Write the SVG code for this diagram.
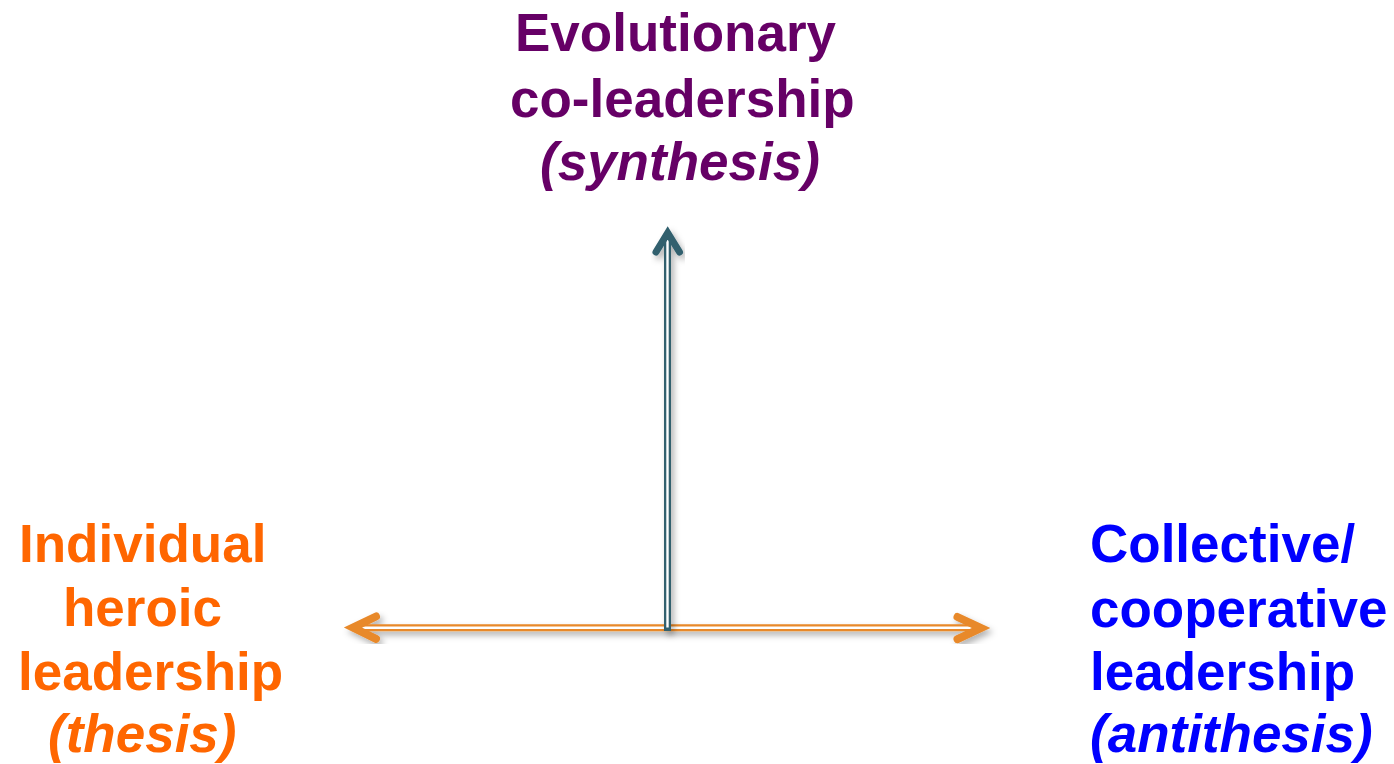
<svg xmlns="http://www.w3.org/2000/svg" width="1394" height="764" viewBox="0 0 1394 764">
  <style>
    .lbl { font-family: "Liberation Sans", Arial, sans-serif; font-weight: bold; font-size: 53px; }
    .it { font-style: italic; }
    .purple { fill: #660066; }
    .orange { fill: #FF6600; }
    .blue { fill: #0000FF; }
    .dbl-o { fill: none; stroke: #E8892A; stroke-width: 7; }
    .dbl-t { fill: none; stroke: #30606E; stroke-width: 7; }
    .gap { fill: none; stroke: #FFFFFF; stroke-width: 2.4; }
    .head-o { fill: none; stroke: #E8892A; stroke-width: 8; stroke-linecap: round; stroke-linejoin: miter; }
    .head-t { fill: none; stroke: #30606E; stroke-width: 7; stroke-linecap: round; stroke-linejoin: miter; }
  </style>
  <defs>
    <filter id="shadow" x="-20%" y="-20%" width="140%" height="140%">
      <feDropShadow dx="3" dy="4" stdDeviation="3" flood-color="#000000" flood-opacity="0.3"/>
    </filter>
  </defs>
  <rect width="1394" height="764" fill="#FFFFFF"/>

  <g id="connectors">
    <g id="horizontal-arrow" filter="url(#shadow)">
      <path class="dbl-o" d="M356,627.7 H978"/>
      <path class="gap" d="M358,627.7 H976"/>
      <path class="head-o" d="M376,616.5 L353,627.6 L376,638.8"/>
      <path class="head-o" d="M957.5,617 L981,628 L957.5,639.2"/>
    </g>
    <g id="vertical-arrow" filter="url(#shadow)">
      <path class="dbl-t" d="M667.5,631 V238"/>
      <path class="gap" d="M667.5,627.5 V240"/>
      <path class="head-t" d="M656,252 L667.7,233 L679.5,252"/>
    </g>
  </g>

  <g id="node-synthesis">
    <text class="lbl purple" x="515" y="51">Evolutionary</text>
    <text class="lbl purple" x="510" y="117">co-leadership</text>
    <text class="lbl purple it" x="540" y="180">(synthesis)</text>
  </g>

  <g id="node-thesis">
    <text class="lbl orange" x="19" y="562">Individual</text>
    <text class="lbl orange" x="63" y="626">heroic</text>
    <text class="lbl orange" x="18" y="690">leadership</text>
    <text class="lbl orange it" x="48" y="752">(thesis)</text>
  </g>

  <g id="node-antithesis">
    <text class="lbl blue" x="1090" y="562">Collective/</text>
    <text class="lbl blue" x="1090" y="627">cooperative</text>
    <text class="lbl blue" x="1090" y="690">leadership</text>
    <text class="lbl blue it" x="1090" y="752">(antithesis)</text>
  </g>
</svg>
